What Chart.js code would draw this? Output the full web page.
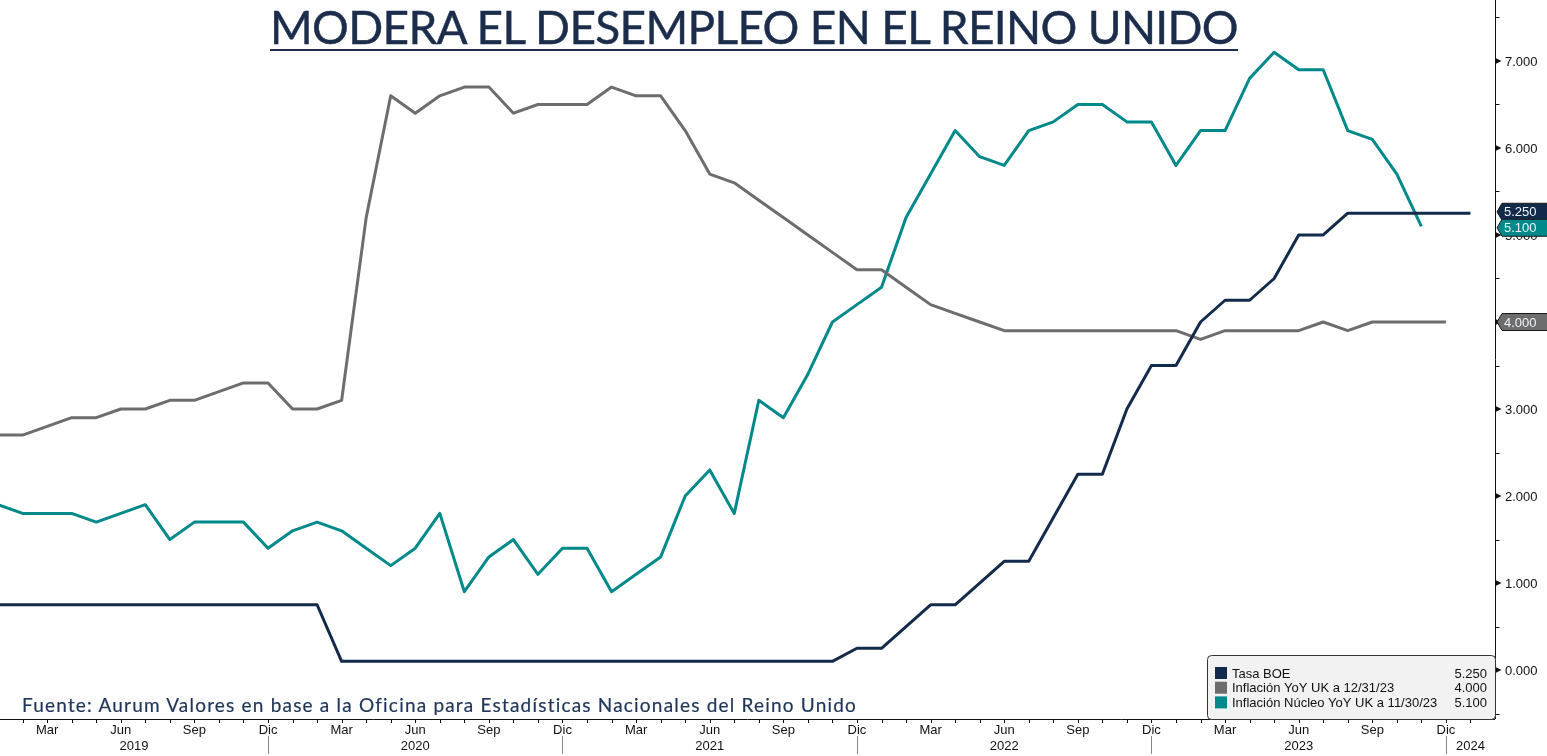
<!DOCTYPE html>
<html>
<head>
<meta charset="utf-8">
<script src="https://cdn.jsdelivr.net/npm/chart.js@4.4.1/dist/chart.umd.min.js"></script>
<style>
  html, body { margin: 0; padding: 0; background: #fff; }
  #wrap { position: relative; width: 1547px; height: 756px; overflow: hidden; }
  #chart { position: absolute; left: 0; top: 0; }
  #title { position: absolute; top: 4px; left: 270px; margin: 0; white-space: nowrap;
    font: 400 46px Lato, sans-serif; line-height: 45px; color: #1b2d4b;
    -webkit-text-stroke: 0.45px #1b2d4b;
    border-bottom: 2px solid #1b2d4b; }
  #source { position: absolute; left: 22px; top: 694px; white-space: nowrap;
    font: 400 19px Lato, sans-serif; line-height: 22px; color: #1f3658;
    -webkit-text-stroke: 0.2px #1f3658; }
</style>
</head>
<body>
<div id="wrap">
  <canvas id="chart" width="1547" height="756"></canvas>
  <h1 id="title">MODERA EL DESEMPLEO EN EL REINO UNIDO</h1>
  <div id="source">Fuente: Aurum Valores en base a la Oficina para Estadísticas Nacionales del Reino Unido</div>
</div>
<script>
// === DATA (monthly, starting Jan 2019) ===
const boeRate = [
  0.75, 0.75, 0.75, 0.75, 0.75, 0.75, 0.75, 0.75, 0.75, 0.75, 0.75, 0.75,
  0.75, 0.75, 0.1, 0.1, 0.1, 0.1, 0.1, 0.1, 0.1, 0.1, 0.1, 0.1,
  0.1, 0.1, 0.1, 0.1, 0.1, 0.1, 0.1, 0.1, 0.1, 0.1, 0.1, 0.25,
  0.25, 0.5, 0.75, 0.75, 1.0, 1.25, 1.25, 1.75, 2.25, 2.25, 3.0, 3.5,
  3.5, 4.0, 4.25, 4.25, 4.5, 5.0, 5.0, 5.25, 5.25, 5.25, 5.25, 5.25,
  5.25
];
const inflacionYoY = [
  2.7, 2.7, 2.8, 2.9, 2.9, 3.0, 3.0, 3.1, 3.1, 3.2, 3.3, 3.3,
  3.0, 3.0, 3.1, 5.2, 6.6, 6.4, 6.6, 6.7, 6.7, 6.4, 6.5, 6.5,
  6.5, 6.7, 6.6, 6.6, 6.2, 5.7, 5.6, 5.4, 5.2, 5.0, 4.8, 4.6,
  4.6, 4.4, 4.2, 4.1, 4.0, 3.9, 3.9, 3.9, 3.9, 3.9, 3.9, 3.9,
  3.9, 3.8, 3.9, 3.9, 3.9, 3.9, 4.0, 3.9, 4.0, 4.0, 4.0, 4.0
];
const inflacionNucleo = [
  1.9, 1.8, 1.8, 1.8, 1.7, 1.8, 1.9, 1.5, 1.7, 1.7, 1.7, 1.4,
  1.6, 1.7, 1.6, 1.4, 1.2, 1.4, 1.8, 0.9, 1.3, 1.5, 1.1, 1.4,
  1.4, 0.9, 1.1, 1.3, 2.0, 2.3, 1.8, 3.1, 2.9, 3.4, 4.0, 4.2,
  4.4, 5.2, 5.7, 6.2, 5.9, 5.8, 6.2, 6.3, 6.5, 6.5, 6.3, 6.3,
  5.8, 6.2, 6.2, 6.8, 7.1, 6.9, 6.9, 6.2, 6.1, 5.7, 5.1
];
const seriesNames = ['Tasa BOE', 'Inflación YoY UK a 12/31/23', 'Inflación Núcleo YoY UK a 11/30/23'];
const seriesColors = ['#132b4a', '#6d6d6d', '#00898a'];
const yTicks = [0, 1, 2, 3, 4, 5, 6, 7];
const monthNames = ['Mar', 'Jun', 'Sep', 'Dic'];
const monthOffsets = [2, 5, 8, 11];
const years = [2019, 2020, 2021, 2022, 2023, 2024];

const toXY = arr => arr.map((v, i) => ({ x: i, y: v }));
const fmt = v => v.toFixed(3);
const AXIS_FONT = "13px 'Liberation Sans', Arial, sans-serif";

// === AXES, TAGS, LEGEND ===
const decor = {
  id: 'decor',
  afterDatasetsDraw(chart) {
    const { ctx, chartArea: a, scales: { x, y } } = chart;
    ctx.save();
    ctx.font = AXIS_FONT;
    ctx.fillStyle = '#111';
    ctx.strokeStyle = '#111';
    ctx.lineWidth = 1;

    // x axis line + monthly ticks
    ctx.beginPath();
    ctx.moveTo(a.left, a.bottom + 0.5);
    ctx.lineTo(a.right, a.bottom + 0.5);
    for (let m = 0; m <= 61; m++) {
      const px = Math.round(x.getPixelForValue(m)) + 0.5;
      if (px < a.left || px > a.right) continue;
      ctx.moveTo(px, a.bottom);
      ctx.lineTo(px, a.bottom + 4);
    }
    ctx.stroke();

    // month labels
    ctx.textAlign = 'center';
    ctx.textBaseline = 'middle';
    years.forEach((yr, k) => {
      monthOffsets.forEach((off, j) => {
        const m = k * 12 + off;
        const px = x.getPixelForValue(m);
        if (px < a.left + 5 || px > a.right - 5) return;
        ctx.fillText(monthNames[j], px, a.bottom + 11);
      });
    });

    // year separators and year labels
    ctx.strokeStyle = '#888';
    ctx.beginPath();
    years.forEach((yr, k) => {
      const start = Math.max(a.left, x.getPixelForValue(k * 12 - 1));
      const end = Math.min(a.right, x.getPixelForValue(k * 12 + 11));
      if (k * 12 + 11 <= 61) {
        const sx = Math.round(end) + 0.5;
        if (sx < a.right) { ctx.moveTo(sx, a.bottom + 17); ctx.lineTo(sx, a.bottom + 35); }
      }
      ctx.fillText(String(yr), (start + end) / 2, a.bottom + 27);
    });
    ctx.stroke();

    // right y axis
    const ax = a.right + 0.5;
    ctx.strokeStyle = '#111';
    ctx.beginPath();
    ctx.moveTo(ax, a.top);
    ctx.lineTo(ax, a.bottom);
    for (let v = -0.5; v <= 7.5; v += 1) {
      const py = Math.round(y.getPixelForValue(v)) + 0.5;
      ctx.moveTo(ax, py);
      ctx.lineTo(ax + 4, py);
    }
    ctx.stroke();
    ctx.textAlign = 'left';
    yTicks.forEach(v => {
      const py = y.getPixelForValue(v);
      ctx.beginPath();
      ctx.moveTo(ax, py - 3);
      ctx.lineTo(ax + 6, py);
      ctx.lineTo(ax, py + 3);
      ctx.closePath();
      ctx.fill();
      ctx.fillText(fmt(v), a.right + 10, py + 1);
    });

    // last-value tags
    const series = [boeRate, inflacionYoY, inflacionNucleo];
    const tags = series.map((s, i) => ({ v: s[s.length - 1], c: seriesColors[i], py: y.getPixelForValue(s[s.length - 1]) }));
    const H = 17;
    const sorted = tags.slice().sort((p, q) => p.py - q.py);
    for (let i = 1; i < sorted.length; i++) {
      const gap = sorted[i].py - sorted[i - 1].py;
      if (gap < H - 1) {
        const d = (H - 1 - gap) / 2;
        sorted[i - 1].py -= d;
        sorted[i].py += d;
      }
    }
    tags.forEach(t => {
      const top = t.py - H / 2, bot = t.py + H / 2;
      ctx.beginPath();
      ctx.moveTo(a.right + 2, t.py);
      ctx.lineTo(a.right + 7, top);
      ctx.lineTo(chart.width + 2, top);
      ctx.lineTo(chart.width + 2, bot);
      ctx.lineTo(a.right + 7, bot);
      ctx.closePath();
      ctx.fillStyle = t.c;
      ctx.fill();
      ctx.strokeStyle = '#1a1a1a';
      ctx.stroke();
      ctx.fillStyle = '#eef3f8';
      ctx.fillText(fmt(t.v), a.right + 9, t.py + 1);
    });

    // legend box
    const lx = 1207, ly = 655, lw = a.right - lx, lh = a.bottom - ly;
    ctx.beginPath();
    ctx.roundRect(lx + 0.5, ly + 0.5, lw, lh, 4);
    ctx.fillStyle = '#f2f2f2';
    ctx.fill();
    ctx.strokeStyle = '#333';
    ctx.stroke();
    seriesNames.forEach((name, i) => {
      const cy = ly + 18 + i * 14.7;
      ctx.fillStyle = seriesColors[i];
      ctx.fillRect(lx + 8, cy - 6, 12, 12);
      ctx.fillStyle = '#111';
      ctx.textAlign = 'left';
      ctx.fillText(name, lx + 25, cy + 1);
      ctx.textAlign = 'right';
      ctx.fillText(fmt(tags[i].v), a.right - 8, cy + 1);
    });
    ctx.restore();
  }
};

new Chart(document.getElementById('chart'), {
  type: 'line',
  data: {
    datasets: [
      { label: seriesNames[0], data: toXY(boeRate), borderColor: seriesColors[0] },
      { label: seriesNames[1], data: toXY(inflacionYoY), borderColor: seriesColors[1] },
      { label: seriesNames[2], data: toXY(inflacionNucleo), borderColor: seriesColors[2] }
    ]
  },
  options: {
    responsive: false, animation: false, devicePixelRatio: 1,
    layout: { padding: { left: 0, right: 52, top: 0, bottom: 37 } },
    plugins: { legend: { display: false }, tooltip: { enabled: false } },
    elements: { point: { radius: 0 }, line: { borderWidth: 3, tension: 0, borderJoinStyle: 'round' } },
    scales: {
      x: { type: 'linear', min: 0.078, max: 61, display: false },
      y: { min: -0.563, max: 7.701, display: false }
    }
  },
  plugins: [decor]
});

// fit title and source widths to the reference
function fitWidth(el, target) {
  const w = el.getBoundingClientRect().width;
  el.style.letterSpacing = ((target - w) / el.textContent.length) + 'px';
}
fitWidth(document.getElementById('title'), 968);
fitWidth(document.getElementById('source'), 835);
</script>
</body>
</html>
